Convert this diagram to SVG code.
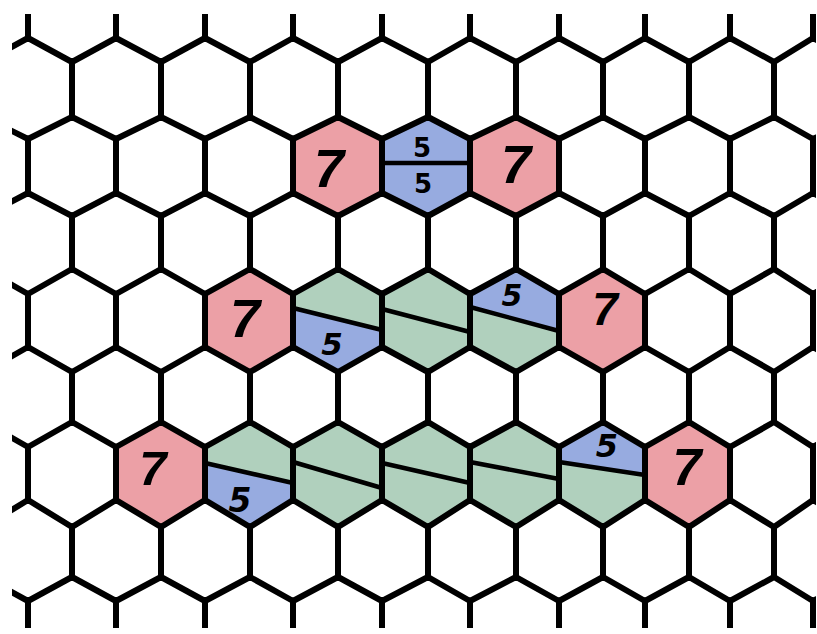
<svg xmlns="http://www.w3.org/2000/svg" width="817" height="634" viewBox="0 0 817 634">
<defs>
<style>
.red{fill:#eca0a6}
.blue{fill:#97abe0}
.green{fill:#b0d0bd}
.div{stroke:#000;stroke-width:4.5;stroke-linecap:round;fill:none}
.lat{stroke:#000;stroke-width:6;stroke-linecap:round;stroke-linejoin:round;fill:none}
.n7{font-family:"Liberation Sans",Arial,sans-serif;font-weight:bold;font-style:italic;fill:#000;text-anchor:middle}
.n5{font-family:"DejaVu Sans","Liberation Sans",sans-serif;font-weight:bold;fill:#000;text-anchor:middle}
</style>
<clipPath id="clip"><rect x="12" y="14" width="804" height="614"/></clipPath>
</defs>
<rect x="0" y="0" width="817" height="634" fill="#fff"/>

<!-- row 1 -->
<g id="r1-seven-a">
<polygon class="red" points="293,139 338,117 382,139 382,193 338,216 293,193"/>
<text class="n7" x="329" y="187" font-size="54">7</text>
</g>
<g id="r1-five-five">
<polygon class="blue" points="382,139 428,117 470,139 470,193 428,216 382,193"/>
<line class="div" x1="382" y1="163" x2="470" y2="163"/>
<text class="n5" x="422" y="157" font-size="26">5</text>
<text class="n5" x="423" y="193" font-size="26">5</text>
</g>
<g id="r1-seven-b">
<polygon class="red" points="470,139 516,117 559,139 559,193 516,216 470,193"/>
<text class="n7" x="516" y="183" font-size="54">7</text>
</g>

<!-- row 3 -->
<g id="r3-seven-a">
<polygon class="red" points="205,294 250,269 293,294 293,347 250,372 205,347"/>
<text class="n7" x="245" y="337" font-size="54">7</text>
</g>
<g id="r3-five-a">
<polygon class="green" points="293,294 338,269 382,294 382,330 293,308"/>
<polygon class="blue" points="293,308 382,330 382,347 338,372 293,347"/>
<line class="div" x1="293" y1="308" x2="382" y2="330"/>
<text class="n5" x="332" y="355" font-size="31" font-style="italic">5</text>
</g>
<g id="r3-six">
<polygon class="green" points="382,294 428,269 470,294 470,347 428,372 382,347"/>
<line class="div" x1="382" y1="309" x2="470" y2="332"/>
</g>
<g id="r3-five-b">
<polygon class="blue" points="470,294 516,269 559,294 559,331 470,307"/>
<polygon class="green" points="470,307 559,331 559,347 516,372 470,347"/>
<line class="div" x1="470" y1="307" x2="559" y2="331"/>
<text class="n5" x="512" y="306" font-size="30" font-style="italic">5</text>
</g>
<g id="r3-seven-b">
<polygon class="red" points="559,294 603,269 645,294 645,347 603,372 559,347"/>
<text class="n7" x="605" y="325" font-size="46">7</text>
</g>

<!-- row 5 -->
<g id="r5-seven-a">
<polygon class="red" points="116,447 161,422 205,447 205,500 161,527 116,500"/>
<text class="n7" x="153" y="485" font-size="49">7</text>
</g>
<g id="r5-five-a">
<polygon class="green" points="205,447 250,422 293,447 293,483 205,463"/>
<polygon class="blue" points="205,463 293,483 293,500 250,527 205,500"/>
<line class="div" x1="205" y1="463" x2="293" y2="483"/>
<text class="n5" x="240" y="512" font-size="33" font-style="italic">5</text>
</g>
<g id="r5-six-a">
<polygon class="green" points="293,447 338,422 382,447 382,500 338,527 293,500"/>
<line class="div" x1="293" y1="462" x2="382" y2="488"/>
</g>
<g id="r5-six-b">
<polygon class="green" points="382,447 428,422 470,447 470,500 428,527 382,500"/>
<line class="div" x1="382" y1="463" x2="470" y2="483"/>
</g>
<g id="r5-six-c">
<polygon class="green" points="470,447 516,422 559,447 559,500 516,527 470,500"/>
<line class="div" x1="470" y1="462" x2="559" y2="479"/>
</g>
<g id="r5-five-b">
<polygon class="blue" points="559,447 603,422 645,447 645,475 559,462"/>
<polygon class="green" points="559,462 645,475 645,500 603,527 559,500"/>
<line class="div" x1="559" y1="462" x2="645" y2="475"/>
<text class="n5" x="607" y="457" font-size="32" font-style="italic">5</text>
</g>
<g id="r5-seven-b">
<polygon class="red" points="645,447 689,422 730,447 730,500 689,527 645,500"/>
<text class="n7" x="687" y="485" font-size="52">7</text>
</g>

<!-- lattice bonds -->
<g id="connectors" class="lat" clip-path="url(#clip)">
<polyline points="-16,62 28,38 72,62 116,38 161,62 205,38 250,62 293,38 338,62 382,38 428,62 470,38 516,62 559,38 603,62 645,38 689,62 730,38 774,62 813,38 857,62"/>
<polyline points="-16,117 28,139 72,117 116,139 161,117 205,139 250,117 293,139 338,117 382,139 428,117 470,139 516,117 559,139 603,117 645,139 689,117 730,139 774,117 813,139 857,117"/>
<polyline points="-16,216 28,193 72,216 116,193 161,216 205,193 250,216 293,193 338,216 382,193 428,216 470,193 516,216 559,193 603,216 645,193 689,216 730,193 774,216 813,193 857,216"/>
<polyline points="-16,269 28,294 72,269 116,294 161,269 205,294 250,269 293,294 338,269 382,294 428,269 470,294 516,269 559,294 603,269 645,294 689,269 730,294 774,269 813,294 857,269"/>
<polyline points="-16,372 28,347 72,372 116,347 161,372 205,347 250,372 293,347 338,372 382,347 428,372 470,347 516,372 559,347 603,372 645,347 689,372 730,347 774,372 813,347 857,372"/>
<polyline points="-16,422 28,447 72,422 116,447 161,422 205,447 250,422 293,447 338,422 382,447 428,422 470,447 516,422 559,447 603,422 645,447 689,422 730,447 774,422 813,447 857,422"/>
<polyline points="-16,527 28,500 72,527 116,500 161,527 205,500 250,527 293,500 338,527 382,500 428,527 470,500 516,527 559,500 603,527 645,500 689,527 730,500 774,527 813,500 857,527"/>
<polyline points="-16,577 28,601 72,577 116,601 161,577 205,601 250,577 293,601 338,577 382,601 428,577 470,601 516,577 559,601 603,577 645,601 689,577 730,601 774,577 813,601 857,577"/>
<path d="M28,0V38M116,0V38M205,0V38M293,0V38M382,0V38M470,0V38M559,0V38M645,0V38M730,0V38M813,0V38"/>
<path d="M72,62V117M161,62V117M250,62V117M338,62V117M428,62V117M516,62V117M603,62V117M689,62V117M774,62V117"/>
<path d="M28,139V193M116,139V193M205,139V193M293,139V193M382,139V193M470,139V193M559,139V193M645,139V193M730,139V193M813,139V193"/>
<path d="M72,216V269M161,216V269M250,216V269M338,216V269M428,216V269M516,216V269M603,216V269M689,216V269M774,216V269"/>
<path d="M28,294V347M116,294V347M205,294V347M293,294V347M382,294V347M470,294V347M559,294V347M645,294V347M730,294V347M813,294V347"/>
<path d="M72,372V422M161,372V422M250,372V422M338,372V422M428,372V422M516,372V422M603,372V422M689,372V422M774,372V422"/>
<path d="M28,447V500M116,447V500M205,447V500M293,447V500M382,447V500M470,447V500M559,447V500M645,447V500M730,447V500M813,447V500"/>
<path d="M72,527V577M161,527V577M250,527V577M338,527V577M428,527V577M516,527V577M603,527V577M689,527V577M774,527V577"/>
<path d="M28,601V640M116,601V640M205,601V640M293,601V640M382,601V640M470,601V640M559,601V640M645,601V640M730,601V640M813,601V640"/>
</g>
</svg>
